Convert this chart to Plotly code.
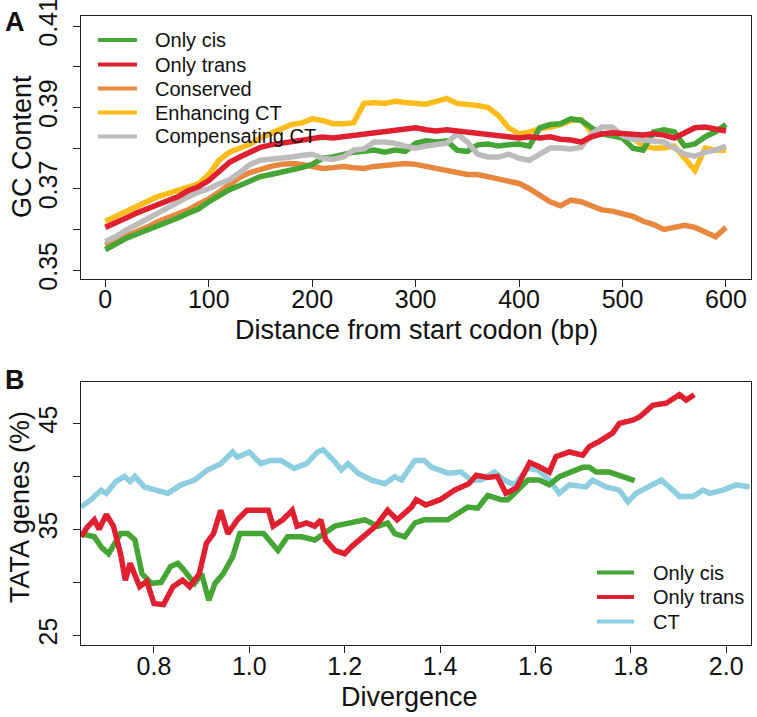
import plotly.graph_objects as go

W, H = 757, 717

# ---------------- Panel A data ----------------
distance_bp = list(range(0, 601, 10))

gc_only_cis = [0.3550, 0.3565, 0.3578, 0.3588, 0.3598, 0.3605, 0.3618, 0.3628, 0.3640, 0.3650,
               0.3668, 0.3685, 0.3698, 0.3708, 0.3718, 0.3730, 0.3735, 0.3740, 0.3745, 0.3752,
               0.3760, 0.3775, 0.3778, 0.3785, 0.3790, 0.3792, 0.3795, 0.3790, 0.3795, 0.3792,
               0.3812, 0.3818, 0.3815, 0.3818, 0.3795, 0.3792, 0.3808, 0.3810, 0.3805, 0.3808,
               0.3810, 0.3805, 0.3850, 0.3858, 0.3860, 0.3872, 0.3868, 0.3850, 0.3835, 0.3830,
               0.3825, 0.3800, 0.3795, 0.3840, 0.3845, 0.3840, 0.3805, 0.3810, 0.3828, 0.3840,
               0.3858]

gc_only_trans = [0.3605, 0.3615, 0.3628, 0.3640, 0.3650, 0.3660, 0.3668, 0.3680, 0.3695, 0.3705,
                 0.3720, 0.3742, 0.3765, 0.3778, 0.3790, 0.3802, 0.3808, 0.3812, 0.3818, 0.3822,
                 0.3825, 0.3827, 0.3825, 0.3828, 0.3830, 0.3835, 0.3838, 0.3840, 0.3845, 0.3848,
                 0.3850, 0.3845, 0.3842, 0.3845, 0.3842, 0.3840, 0.3835, 0.3832, 0.3830, 0.3828,
                 0.3825, 0.3828, 0.3825, 0.3828, 0.3822, 0.3820, 0.3815, 0.3828, 0.3835, 0.3838,
                 0.3835, 0.3835, 0.3832, 0.3835, 0.3832, 0.3825, 0.3838, 0.3850, 0.3852, 0.3848,
                 0.3842]

gc_conserved = [0.3562, 0.3572, 0.3582, 0.3592, 0.3605, 0.3618, 0.3628, 0.3638, 0.3648, 0.3662,
                0.3675, 0.3692, 0.3710, 0.3728, 0.3740, 0.3748, 0.3755, 0.3760, 0.3762, 0.3760,
                0.3755, 0.3750, 0.3752, 0.3755, 0.3752, 0.3750, 0.3755, 0.3758, 0.3760, 0.3762,
                0.3760, 0.3755, 0.3748, 0.3742, 0.3740, 0.3735, 0.3735, 0.3730, 0.3725, 0.3720,
                0.3713, 0.3700, 0.3685, 0.3668, 0.3658, 0.3672, 0.3668, 0.3658, 0.3648, 0.3645,
                0.3640, 0.3632, 0.3620, 0.3612, 0.3600, 0.3605, 0.3610, 0.3605, 0.3595, 0.3582,
                0.3605]

gc_enhancing_ct = [0.3620, 0.3632, 0.3645, 0.3658, 0.3668, 0.3680, 0.3688, 0.3695, 0.3705, 0.3712,
                   0.3735, 0.3770, 0.3790, 0.3800, 0.3810, 0.3825, 0.3835, 0.3845, 0.3858, 0.3862,
                   0.3872, 0.3868, 0.3860, 0.3860, 0.3862, 0.3910, 0.3912, 0.3910, 0.3915, 0.3912,
                   0.3910, 0.3908, 0.3915, 0.3922, 0.3910, 0.3908, 0.3905, 0.3900, 0.3880, 0.3850,
                   0.3835, 0.3840, 0.3848, 0.3852, 0.3858, 0.3868, 0.3870, 0.3840, 0.3835, 0.3830,
                   0.3828, 0.3825, 0.3805, 0.3800, 0.3800, 0.3805, 0.3775, 0.3745, 0.3800, 0.3795,
                   0.3795]

gc_compensating_ct = [0.3570, 0.3582, 0.3598, 0.3612, 0.3625, 0.3640, 0.3655, 0.3668, 0.3680, 0.3692,
                      0.3700, 0.3712, 0.3722, 0.3740, 0.3760, 0.3770, 0.3772, 0.3775, 0.3778, 0.3782,
                      0.3785, 0.3775, 0.3772, 0.3778, 0.3795, 0.3798, 0.3815, 0.3815, 0.3812, 0.3805,
                      0.3800, 0.3805, 0.3810, 0.3812, 0.3835, 0.3815, 0.3785, 0.3778, 0.3778, 0.3785,
                      0.3775, 0.3770, 0.3785, 0.3800, 0.3800, 0.3798, 0.3802, 0.3835, 0.3852, 0.3852,
                      0.3830, 0.3822, 0.3820, 0.3818, 0.3815, 0.3800, 0.3785, 0.3780, 0.3790, 0.3795,
                      0.3805]

a_names = ["Only cis", "Only trans", "Conserved", "Enhancing CT", "Compensating CT"]
a_series = [gc_only_cis, gc_only_trans, gc_conserved, gc_enhancing_ct, gc_compensating_ct]
a_colors = ["#45a535", "#e0202f", "#e8883e", "#fcbd1c", "#bdbbbb"]
a_draw_order = [2, 3, 0, 4, 1]

a_xticks = [0, 100, 200, 300, 400, 500, 600]
a_yticks = [0.35, 0.36, 0.37, 0.38, 0.39, 0.40, 0.41]
a_yticklabels = ["0.35", "", "0.37", "", "0.39", "", "0.41"]

# ---------------- Panel B data ----------------
cis_div = [0.647, 0.675, 0.690, 0.705, 0.730, 0.745, 0.760, 0.775, 0.795, 0.815,
           0.835, 0.850, 0.862, 0.885, 0.900, 0.915, 0.928, 0.945, 0.965, 0.980,
           1.000, 1.030, 1.060, 1.080, 1.110, 1.137, 1.179, 1.207, 1.242, 1.270,
           1.290, 1.305, 1.326, 1.347, 1.367, 1.416, 1.437, 1.458, 1.479, 1.500,
           1.528, 1.542, 1.563, 1.584, 1.608, 1.629, 1.650, 1.671, 1.699, 1.713,
           1.727, 1.755, 1.776, 1.797, 1.808]
cis_tata = [34.6, 34.3, 33.3, 32.7, 34.6, 34.6, 34.0, 30.8, 29.9, 30.0,
            31.5, 31.8, 31.2, 29.9, 30.8, 28.3, 29.9, 30.8, 32.4, 34.6,
            34.6, 34.6, 33.0, 34.3, 34.3, 34.0, 35.3, 35.6, 35.9, 35.3,
            35.6, 34.6, 34.3, 35.6, 35.9, 35.9, 36.5, 37.1, 37.0, 38.2,
            37.8, 37.8, 38.7, 39.65, 39.65, 39.2, 39.96, 40.3, 40.85, 40.85,
            40.4, 40.4, 40.1, 39.8, 39.6]

trans_div = [0.647, 0.660, 0.675, 0.685, 0.700, 0.715, 0.730, 0.740, 0.750, 0.770,
             0.785, 0.800, 0.820, 0.840, 0.860, 0.875, 0.895, 0.910, 0.925, 0.940,
             0.955, 0.975, 0.995, 1.020, 1.040, 1.050, 1.070, 1.090, 1.100, 1.120,
             1.137, 1.150, 1.160, 1.180, 1.200, 1.215, 1.240, 1.265, 1.290, 1.310,
             1.340, 1.350, 1.370, 1.400, 1.430, 1.460, 1.476, 1.500, 1.520, 1.538,
             1.560, 1.588, 1.608, 1.629, 1.643, 1.671, 1.699, 1.713, 1.734, 1.762,
             1.776, 1.804, 1.818, 1.846, 1.874, 1.902, 1.916, 1.933]
trans_tata = [34.3, 35.2, 35.9, 35.0, 36.4, 35.3, 32.7, 30.2, 31.8, 29.6,
              30.1, 28.0, 27.9, 29.6, 30.2, 29.6, 30.8, 33.7, 34.6, 36.8,
              34.6, 35.9, 36.8, 36.8, 36.8, 35.3, 35.9, 36.8, 35.3, 35.6,
              35.3, 35.9, 34.0, 33.0, 32.7, 33.4, 34.3, 35.3, 36.8, 35.9,
              37.1, 37.8, 37.3, 37.8, 38.7, 39.3, 40.1, 39.9, 40.0, 38.4,
              38.9, 41.3, 40.9, 40.4, 41.85, 42.3, 42.0, 42.8, 43.3, 44.1,
              45.0, 45.3, 45.6, 46.7, 46.9, 47.7, 47.2, 47.7]

ct_div = [0.647, 0.668, 0.689, 0.700, 0.720, 0.738, 0.750, 0.760, 0.780, 0.800,
          0.829, 0.857, 0.885, 0.912, 0.940, 0.965, 0.975, 1.000, 1.024, 1.045,
          1.066, 1.094, 1.120, 1.143, 1.155, 1.179, 1.193, 1.207, 1.228, 1.256,
          1.284, 1.305, 1.319, 1.347, 1.367, 1.381, 1.402, 1.416, 1.444, 1.465,
          1.486, 1.514, 1.535, 1.556, 1.584, 1.605, 1.629, 1.650, 1.671, 1.706,
          1.720, 1.748, 1.776, 1.794, 1.811, 1.839, 1.864, 1.888, 1.902, 1.930,
          1.951, 1.965, 1.993, 2.021, 2.049]
ct_tata = [37.1, 37.8, 38.7, 38.4, 39.5, 40.0, 39.5, 40.0, 39.0, 38.7,
           38.4, 39.2, 39.65, 40.6, 41.2, 42.3, 41.8, 42.3, 41.2, 41.5,
           41.5, 40.75, 41.2, 42.3, 42.5, 41.4, 40.6, 41.2, 40.3, 39.65,
           39.3, 39.96, 39.65, 41.5, 41.5, 40.9, 40.6, 40.3, 40.4, 39.65,
           39.65, 40.4, 39.65, 39.2, 40.75, 40.6, 39.65, 38.4, 39.2, 39.0,
           39.65, 39.0, 38.7, 37.6, 38.4, 39.0, 39.65, 38.7, 38.1, 38.1,
           38.7, 38.4, 38.7, 39.2, 39.0]

b_names = ["Only cis", "Only trans", "CT"]
b_x = [cis_div, trans_div, ct_div]
b_y = [cis_tata, trans_tata, ct_tata]
b_colors = ["#45a535", "#e0202f", "#8dcfe0"]
b_draw_order = [2, 0, 1]

b_xticks = [0.8, 1.0, 1.2, 1.4, 1.6, 1.8, 2.0]
b_xticklabels = ["0.8", "1.0", "1.2", "1.4", "1.6", "1.8", "2.0"]
b_yticks = [25, 30, 35, 40, 45]
b_yticklabels = ["25", "", "35", "", "45"]

# ---------------- helpers ----------------
def px(x):
    return x / W

def py(y):
    return 1 - y / H

FONT = "Liberation Sans, Arial, Helvetica, sans-serif"
TXT = "#111111"

fig = go.Figure()

for i in a_draw_order:
    fig.add_trace(go.Scatter(x=distance_bp, y=a_series[i], mode="lines", name=a_names[i],
                             line=dict(color=a_colors[i], width=5.5), showlegend=False,
                             xaxis="x", yaxis="y"))

for i in b_draw_order:
    fig.add_trace(go.Scatter(x=b_x[i], y=b_y[i], mode="lines", name=b_names[i],
                             line=dict(color=b_colors[i], width=5.5), showlegend=False,
                             xaxis="x2", yaxis="y2"))

axis_common = dict(showline=True, mirror=True, linecolor="#222222", linewidth=1.3,
                   ticks="outside", ticklen=7, tickwidth=1.3, tickcolor="#222222",
                   showgrid=False, zeroline=False, automargin=False,
                   ticklabeloverflow="allow",
                   tickfont=dict(family=FONT, size=25, color=TXT))

fig.update_layout(
    width=W, height=H,
    margin=dict(l=0, r=0, t=0, b=0),
    paper_bgcolor="white", plot_bgcolor="white",
    xaxis=dict(domain=[px(81), px(751)], range=[-23.5, 624.2], anchor="y",
               tickvals=a_xticks, ticklabelstandoff=-9, **axis_common),
    yaxis=dict(domain=[py(279), py(16)], range=[0.3478, 0.4125], anchor="x",
               tickvals=a_yticks, ticktext=a_yticklabels, tickangle=-90,
               ticklabelstandoff=6, **axis_common),
    xaxis2=dict(domain=[px(81), px(751)], range=[0.647, 2.052], anchor="y2",
                tickvals=b_xticks, ticktext=b_xticklabels, ticklabelstandoff=-8, **axis_common),
    yaxis2=dict(domain=[py(645), py(382)], range=[24.09, 48.9], anchor="x2",
                tickvals=b_yticks, ticktext=b_yticklabels, tickangle=-90,
                ticklabelstandoff=6, **axis_common),
    showlegend=False,
)

ann = []
def add_text(text, x, y, size, angle=0, bold=False, xanchor="center", yanchor="middle"):
    ann.append(dict(text=("<b>%s</b>" % text) if bold else text, x=px(x), y=py(y),
                    xref="paper", yref="paper", showarrow=False, textangle=angle,
                    xanchor=xanchor, yanchor=yanchor,
                    font=dict(family=FONT, size=size, color=TXT)))

add_text("A", 3, 22, 27, bold=True, xanchor="left")
add_text("B", 3, 380, 27, bold=True, xanchor="left")
add_text("GC Content", 22, 147, 27, angle=-90)
add_text("Distance from start codon (bp)", 416, 330, 27)
add_text("TATA genes (%)", 20, 507, 27, angle=-90)
add_text("Divergence", 410, 697, 27)

shapes = []
a_leg_y = [40, 64.5, 88.5, 112.5, 136.5]
for i, name in enumerate(a_names):
    shapes.append(dict(type="line", xref="paper", yref="paper",
                       x0=px(98), x1=px(137), y0=py(a_leg_y[i]), y1=py(a_leg_y[i]),
                       line=dict(color=a_colors[i], width=4)))
    add_text(name, 153, a_leg_y[i], 20, xanchor="left")

b_leg_y = [572.5, 597, 621.5]
for i, name in enumerate(b_names):
    shapes.append(dict(type="line", xref="paper", yref="paper",
                       x0=px(597), x1=px(634), y0=py(b_leg_y[i]), y1=py(b_leg_y[i]),
                       line=dict(color=b_colors[i], width=4)))
    add_text(name, 651, b_leg_y[i], 20, xanchor="left")

fig.update_layout(annotations=ann, shapes=shapes)

fig.write_html("out.html", config={"displayModeBar": False},
               post_script="document.body.style.margin='0';document.body.style.padding='0';")
